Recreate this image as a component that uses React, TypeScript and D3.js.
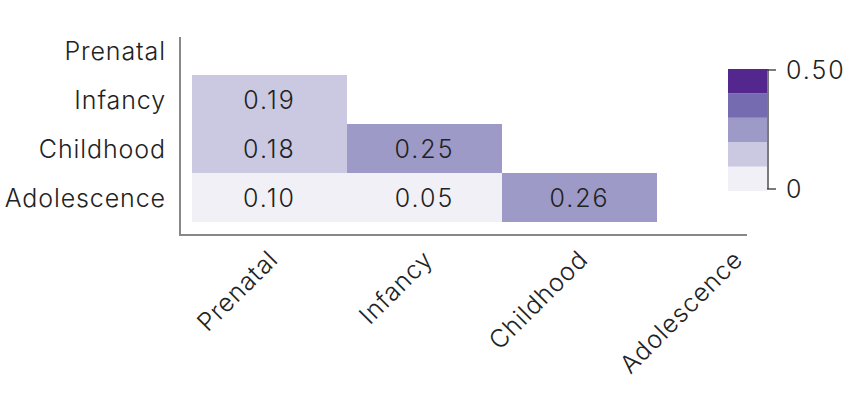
import React from "react";
import * as d3 from "d3";

const stages = ["Prenatal", "Infancy", "Childhood", "Adolescence"];
const cellRows = ["Infancy", "Childhood", "Childhood", "Adolescence", "Adolescence", "Adolescence"];
const cellCols = ["Prenatal", "Prenatal", "Infancy", "Prenatal", "Infancy", "Childhood"];
const cellValues = [0.19, 0.18, 0.25, 0.1, 0.05, 0.26];
const legendThresholds = [0.1, 0.2, 0.3, 0.4];
const legendColors = ["#f2f0f7", "#cbc9e2", "#9e9ac8", "#756bb1", "#54278f"];
const legendTicks = [0, 0.5];
const legendTickLabels = ["0", "0.50"];

const W = 858;
const H = 393;
const FONT = "Inter, 'DejaVu Sans', sans-serif";
const FS = 25;
const LS = 0.9;

export default function App() {
  const x = d3.scaleBand<string>().domain(stages).range([192, 812]);
  const y = d3.scaleBand<string>().domain(stages).range([26, 222]);
  const colorIdx = (v: number) => d3.bisectLeft(legendThresholds, v);
  const color = (v: number) => legendColors[colorIdx(v)];
  const legendY = d3.scaleLinear().domain([0, 0.5]).range([191, 69]);
  const legendBands = legendColors.map((c, i) => ({
    c,
    lo: i === 0 ? 0 : legendThresholds[i - 1],
    hi: i === legendColors.length - 1 ? 0.5 : legendThresholds[i],
  }));
  const cells = cellValues.map((v, i) => ({ v, r: cellRows[i], c: cellCols[i] }));

  return (
    <svg
      width={W}
      height={H}
      style={{ position: "absolute", left: 0, top: 0 }}
      fontFamily={FONT}
      fontWeight={300}
      letterSpacing={LS}
    >
      <rect width={W} height={H} fill="#fff" />
      {cells.map((d, i) => (
        <g key={i}>
          <rect x={x(d.c)} y={y(d.r)} width={x.bandwidth()} height={y.bandwidth()} fill={color(d.v)} />
          <text
            x={(x(d.c) as number) + x.bandwidth() / 2}
            y={(y(d.r) as number) + y.bandwidth() / 2}
            textAnchor="middle"
            dominantBaseline="central"
            fontSize={FS}
            letterSpacing={2}
            fill="#222"
          >
            {d.v.toFixed(2)}
          </text>
        </g>
      ))}
      {/* axes */}
      <line x1={180} x2={180} y1={37} y2={236} stroke="#888" strokeWidth={2} />
      <line x1={179} x2={747} y1={235} y2={235} stroke="#888" strokeWidth={2} />
      {stages.map((s) => (
        <text
          key={"y" + s}
          x={166}
          y={(y(s) as number) + y.bandwidth() / 2}
          textAnchor="end"
          dominantBaseline="central"
          fontSize={FS}
          fill="#222"
        >
          {s}
        </text>
      ))}
      {stages.map((s) => {
        const cx = (x(s) as number) + x.bandwidth() / 2 + 10;
        const cy = 261;
        return (
          <text
            key={"x" + s}
            transform={`translate(${cx},${cy}) rotate(-45)`}
            textAnchor="end"
            fontSize={FS}
            fill="#222"
          >
            {s}
          </text>
        );
      })}
      {/* legend */}
      {legendBands.map((b, i) => (
        <rect
          key={"lb" + i}
          x={728}
          y={legendY(b.hi)}
          width={39}
          height={legendY(b.lo) - legendY(b.hi)}
          fill={b.c}
        />
      ))}
      <line x1={768} x2={768} y1={legendY(0.5)} y2={legendY(0) - 2} stroke="#333" strokeWidth={1.3} />
      {legendTicks.map((t, i) => {
        const ty = t === 0 ? legendY(0) - 2 : legendY(t) + 1;
        return (
          <g key={"lt" + i}>
            <line x1={767} x2={776} y1={ty} y2={ty} stroke="#333" strokeWidth={1.3} />
            <text x={786} y={ty} dominantBaseline="central" fontSize={FS} letterSpacing={2} fill="#222">
              {legendTickLabels[i]}
            </text>
          </g>
        );
      })}
    </svg>
  );
}
